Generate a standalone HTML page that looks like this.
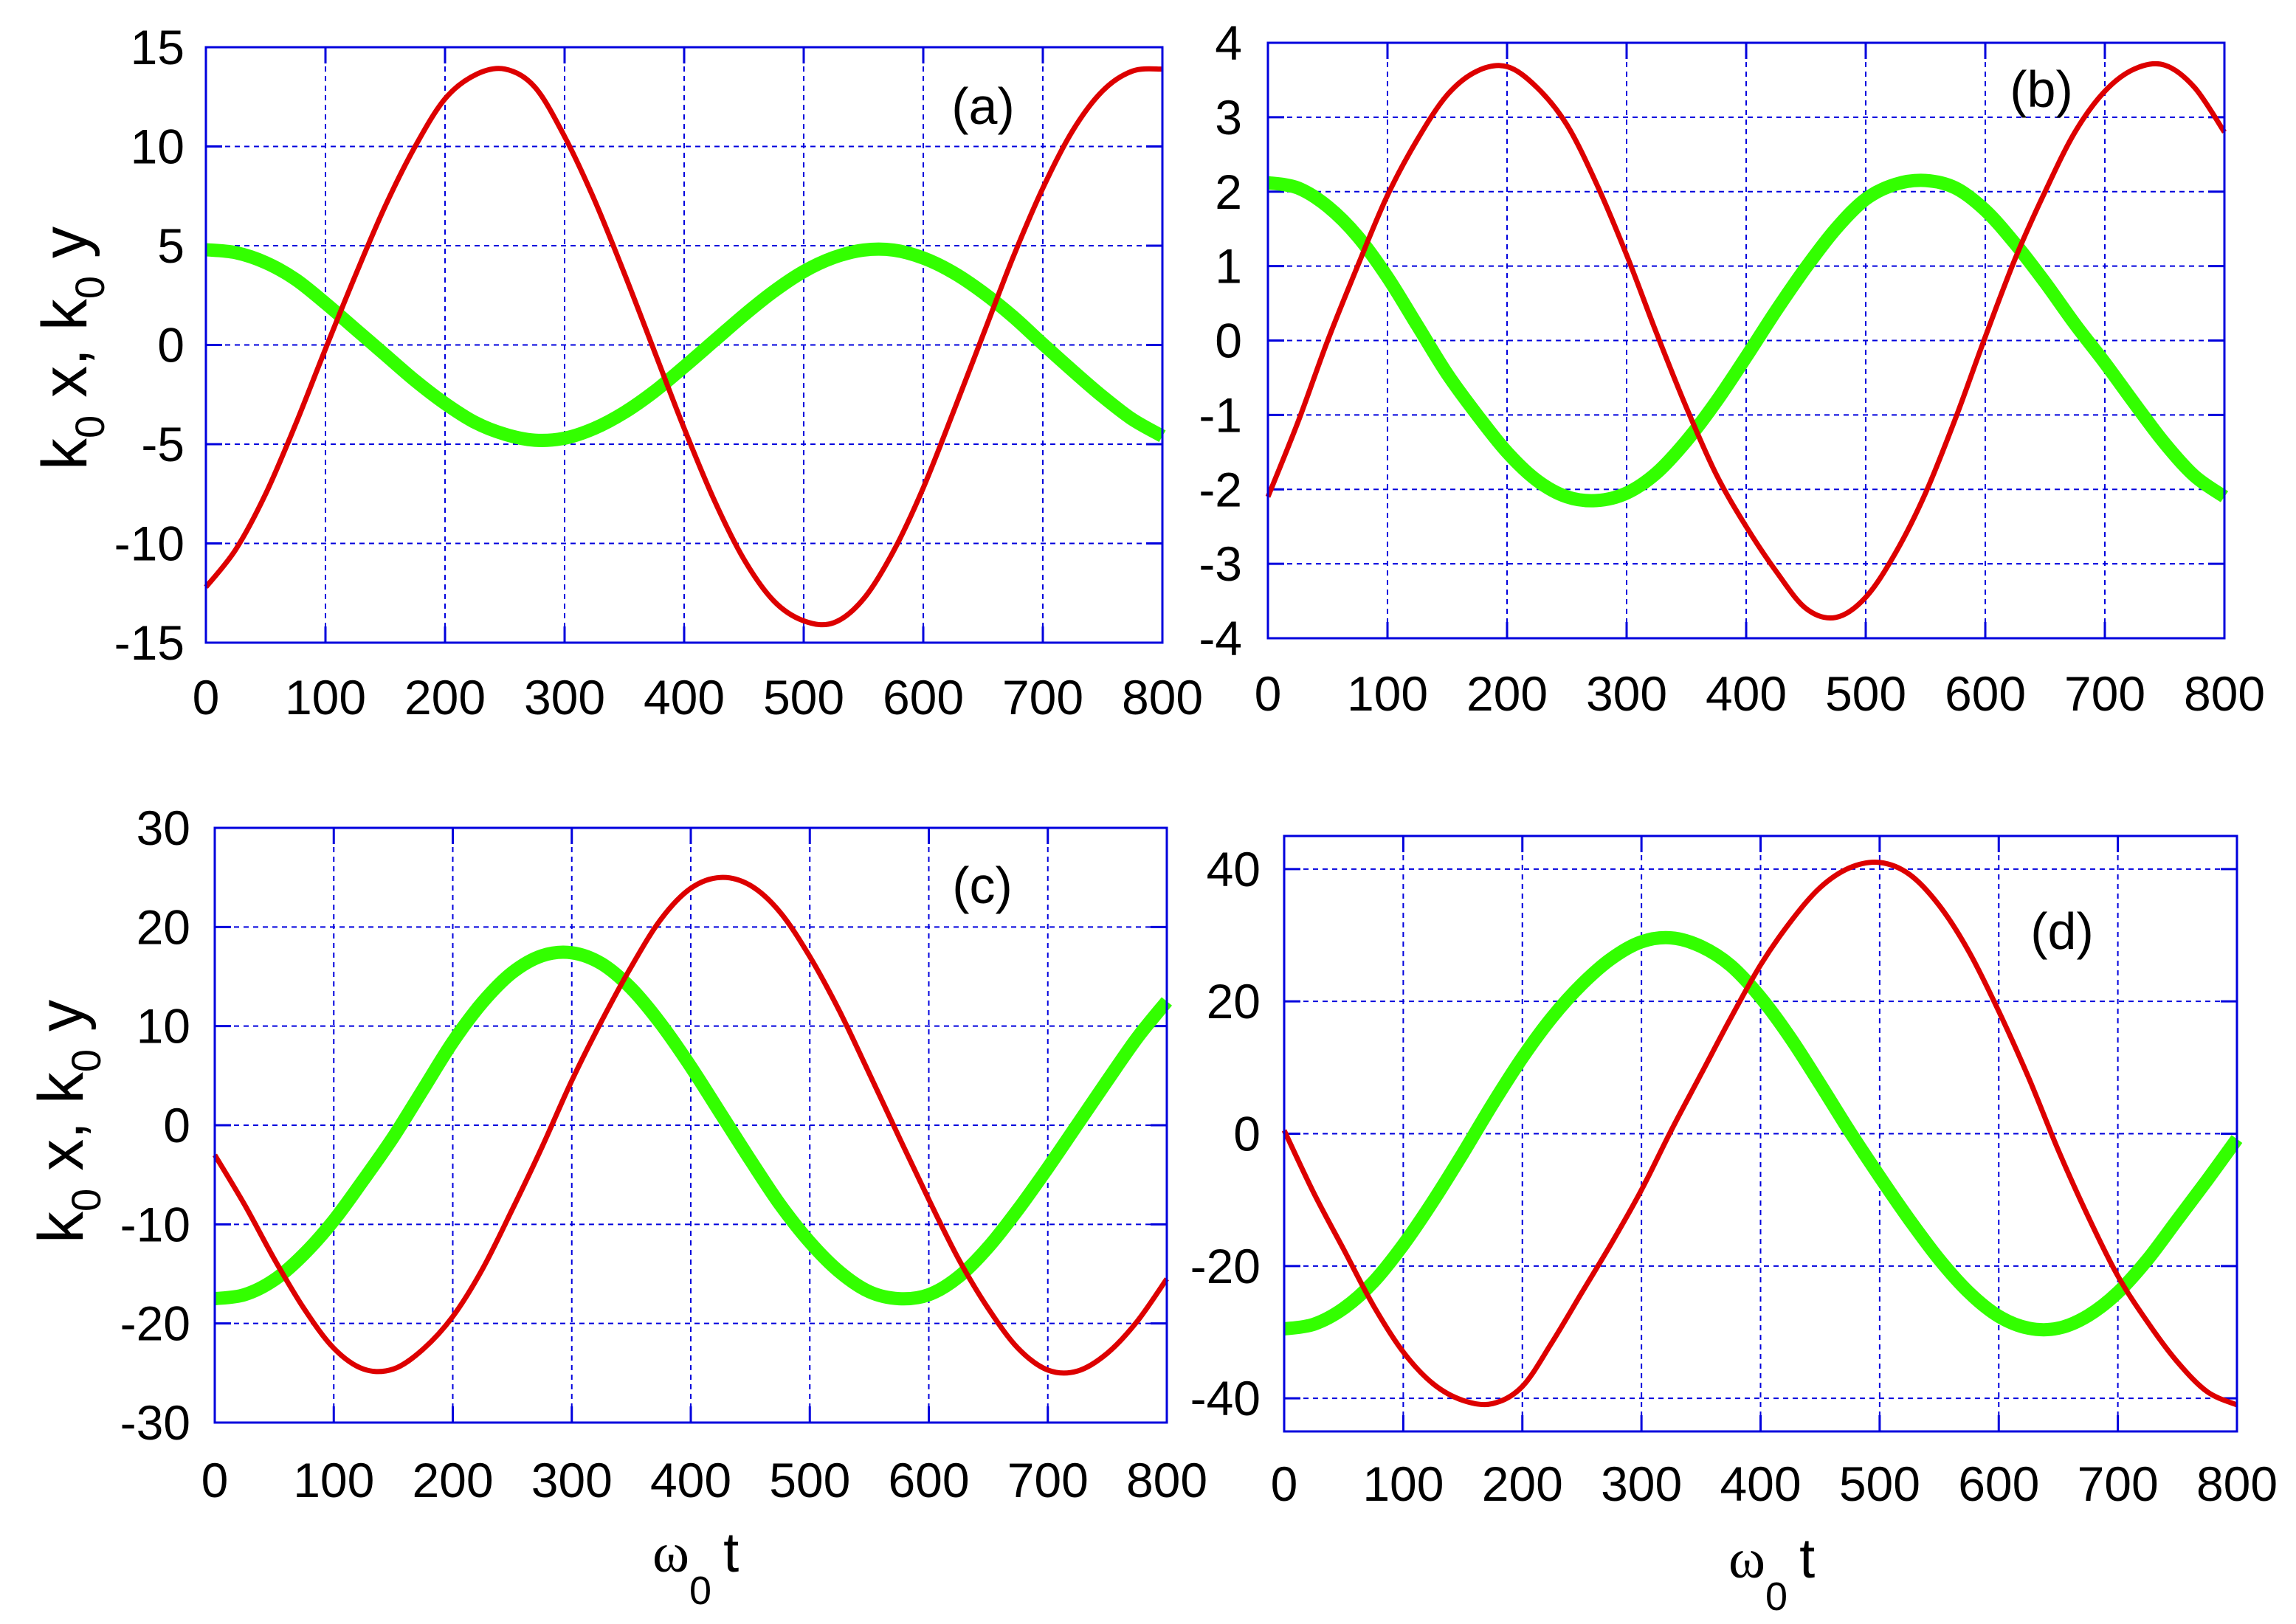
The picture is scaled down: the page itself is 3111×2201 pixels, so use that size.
<!DOCTYPE html>
<html><head><meta charset="utf-8"><style>
html,body{margin:0;padding:0;background:#fff;}
svg{display:block;font-family:"Liberation Sans",Arial,sans-serif;}
</style></head><body>
<svg id="fig" width="3111" height="2201" viewBox="0 0 3111 2201" xmlns="http://www.w3.org/2000/svg">
<rect width="3111" height="2201" fill="#fff"/>
</svg>
<script>
const tValues = [0,25,50,75,100,125,150,175,200,225,250,275,300,325,350,375,400,425,450,475,500,525,550,575,600,625,650,675,700,725,750,775,800];
const xTickLabels = ["0","100","200","300","400","500","600","700","800"];
const redA = [-12.2,-10.3,-7.5,-4.0,-0.2,3.5,7.0,10.0,12.4,13.6,13.9,13.0,10.5,7.3,3.6,-0.3,-4.2,-7.8,-10.8,-12.9,-13.9,-14.0,-12.8,-10.4,-7.2,-3.4,0.5,4.4,7.9,10.8,12.8,13.8,13.9];
const greenA = [4.8,4.65,4.15,3.3,2.1,0.8,-0.5,-1.8,-2.95,-3.9,-4.5,-4.8,-4.7,-4.2,-3.4,-2.35,-1.1,0.2,1.5,2.7,3.7,4.4,4.78,4.78,4.38,3.65,2.64,1.43,0.05,-1.3,-2.6,-3.75,-4.6];
const redB = [-2.1,-1.1,0.0,1.0,1.95,2.7,3.3,3.62,3.68,3.4,2.9,2.1,1.15,0.1,-0.9,-1.8,-2.5,-3.1,-3.6,-3.72,-3.45,-2.85,-2.05,-1.05,0.05,1.1,2.0,2.8,3.35,3.65,3.7,3.4,2.8];
const greenB = [2.12,2.05,1.8,1.4,0.85,0.2,-0.45,-1.0,-1.5,-1.88,-2.1,-2.15,-2.05,-1.78,-1.35,-0.82,-0.22,0.4,0.98,1.5,1.9,2.1,2.15,2.05,1.75,1.3,0.78,0.22,-0.3,-0.85,-1.38,-1.82,-2.1];
const redC = [-3,-8,-13.5,-18.5,-22.5,-24.6,-24.6,-22.6,-19.3,-14.5,-8.5,-2.2,4.5,10.5,16,20.8,23.9,25,24.2,21.5,17,11.5,5.2,-1.2,-7.5,-13.5,-18.5,-22.5,-24.7,-24.8,-23,-19.8,-15.5];
const greenC = [-17.5,-17.1,-15.6,-13,-9.6,-5.5,-1.2,3.6,8.4,12.4,15.4,17.1,17.4,16.3,13.8,10.2,5.9,1.2,-3.5,-8.0,-11.8,-14.8,-16.8,-17.5,-17.1,-15.3,-12.3,-8.5,-4.3,0.1,4.5,8.8,12.5];
const redD = [0.5,-9,-17.5,-26,-33,-37.8,-40.3,-40.8,-38.2,-31.5,-24,-16.5,-8.5,0.5,9,17.5,25.5,32,37.2,40.2,41,39.2,34.5,27.5,18.5,8.5,-2.5,-12.5,-21.5,-28.5,-34.5,-39,-41];
const greenD = [-29.5,-28.8,-26.4,-22.4,-16.8,-10.2,-3,4.5,11.5,17.6,22.6,26.5,29,29.6,28.3,25.4,20.6,14.5,7.5,0.3,-6.5,-13,-19,-24,-27.6,-29.4,-29.4,-27.5,-24,-19,-13,-7,-0.8];
const yTicksA = [-15,-10,-5,0,5,10,15];
const yTicksB = [-4,-3,-2,-1,0,1,2,3,4];
const yTicksC = [-30,-20,-10,0,10,20,30];
const yTicksD = [-40,-20,0,20,40];

const NS = "http://www.w3.org/2000/svg";
const svg = document.getElementById('fig');
function mk(tag, attrs, parent){
  const e = document.createElementNS(NS, tag);
  for (const k in attrs) e.setAttribute(k, attrs[k]);
  (parent||svg).appendChild(e);
  return e;
}
function smooth(p){
  let d = 'M' + p[0][0].toFixed(1) + ',' + p[0][1].toFixed(1);
  for (let i = 0; i < p.length - 1; i++) {
    const p0 = p[Math.max(0,i-1)], p1 = p[i], p2 = p[i+1], p3 = p[Math.min(p.length-1,i+2)];
    const c1x = p1[0] + (p2[0]-p0[0])/6, c1y = p1[1] + (p2[1]-p0[1])/6;
    const c2x = p2[0] - (p3[0]-p1[0])/6, c2y = p2[1] - (p3[1]-p1[1])/6;
    d += ' C' + c1x.toFixed(1)+','+c1y.toFixed(1)+' '+c2x.toFixed(1)+','+c2y.toFixed(1)+' '+p2[0].toFixed(1)+','+p2[1].toFixed(1);
  }
  return d;
}
function panel(id, box, ymin, ymax, yTicks, red, green, letter, letterPos, tickRight, xLabY, yTitle, xTitle){
  const g = mk('g', {});
  
  
  const sx = v => box.l + (v - 0) / 800 * (box.r - box.l);
  const sy = v => box.b - (v - ymin) / (ymax - ymin) * (box.b - box.t);
  for (let i = 0; i < xTickLabels.length; i++) {
    const v = Number(xTickLabels[i]);
    const x = sx(v);
    if (i > 0 && i < xTickLabels.length - 1) {
      const gl = mk('line', {x1:x, y1:box.t, x2:x, y2:box.b, stroke:'#0000dd', 'stroke-width':2, 'stroke-dasharray':'7,6'}, g);
      
      
      mk('line', {x1:x, y1:box.b, x2:x, y2:box.b-22, stroke:'#0000dd', 'stroke-width':3}, g);
      mk('line', {x1:x, y1:box.t, x2:x, y2:box.t+22, stroke:'#0000dd', 'stroke-width':3}, g);
    }
    const tl = mk('text', {x:x, y:xLabY, 'font-size':66, 'text-anchor':'middle', fill:'#000'}, g);
    tl.textContent = xTickLabels[i];
    
    
  }
  for (const v of yTicks) {
    const y = sy(v);
    if (v > ymin && v < ymax) {
      const gl = mk('line', {x1:box.l, y1:y, x2:box.r, y2:y, stroke:'#0000dd', 'stroke-width':2, 'stroke-dasharray':'7,6'}, g);
      
      
      mk('line', {x1:box.l, y1:y, x2:box.l+22, y2:y, stroke:'#0000dd', 'stroke-width':3}, g);
      mk('line', {x1:box.r, y1:y, x2:box.r-22, y2:y, stroke:'#0000dd', 'stroke-width':3}, g);
    }
    const tl = mk('text', {x:tickRight, y:y+23, 'font-size':66, 'text-anchor':'end', fill:'#000'}, g);
    tl.textContent = String(v);
    
    
  }
  const ptsG = green.map((v,i)=> [sx(tValues[i]), sy(v)]);
  const pg = mk('path', {d:smooth(ptsG), fill:'none', stroke:'#33ff00', 'stroke-width':18, 'stroke-linejoin':'round'}, g);
  
  
  const ptsR = red.map((v,i)=> [sx(tValues[i]), sy(v)]);
  const pr = mk('path', {d:smooth(ptsR), fill:'none', stroke:'#dd0000', 'stroke-width':7, 'stroke-linejoin':'round'}, g);
  
  
  const fr = mk('rect', {x:box.l, y:box.t, width:box.r-box.l, height:box.b-box.t, fill:'none', stroke:'#0000dd', 'stroke-width':3}, g);
  
  
  const lt = mk('text', {x:letterPos[0], y:letterPos[1], 'font-size':70, 'text-anchor':'middle', fill:'#000'}, g);
  lt.textContent = letter;
  
  
  if (yTitle) {
    const t = mk('text', {transform:'translate('+(yTitle[0]+30)+','+yTitle[1]+') rotate(-90)', 'font-size':86, 'text-anchor':'middle', fill:'#000'}, g);
    t.innerHTML = 'k<tspan font-size="56" dy="24">0</tspan><tspan dy="-24"> x, k</tspan><tspan font-size="56" dy="24">0</tspan><tspan dy="-24"> y</tspan>';
    
    
  }
  if (xTitle) {
    const t = mk('text', {x:xTitle[0], y:xTitle[1], 'font-size':76, fill:'#000'}, g);
    t.innerHTML = '<tspan font-family="Liberation Serif, serif">ω</tspan><tspan font-size="54" dy="44">0</tspan><tspan dy="-44" dx="16">t</tspan>';
    
    
  }
}
panel('a', {l:279,r:1575,t:64,b:871}, -15, 15, yTicksA, redA, greenA, '(a)', [1332,168], 250, 968, [87,472], null);
panel('b', {l:1718,r:3014,t:58,b:865}, -4, 4, yTicksB, redB, greenB, '(b)', [2766,145], 1683, 963, null, null);
panel('c', {l:291,r:1581,t:1122,b:1928}, -30, 30, yTicksC, redC, greenC, '(c)', [1331,1224], 258, 2029, [82,1520], [884,2130]);
panel('d', {l:1740,r:3031,t:1133,b:1940}, -45, 45, yTicksD, redD, greenD, '(d)', [2794,1286], 1708, 2034, null, [2342,2138]);
</script>
</body></html>
